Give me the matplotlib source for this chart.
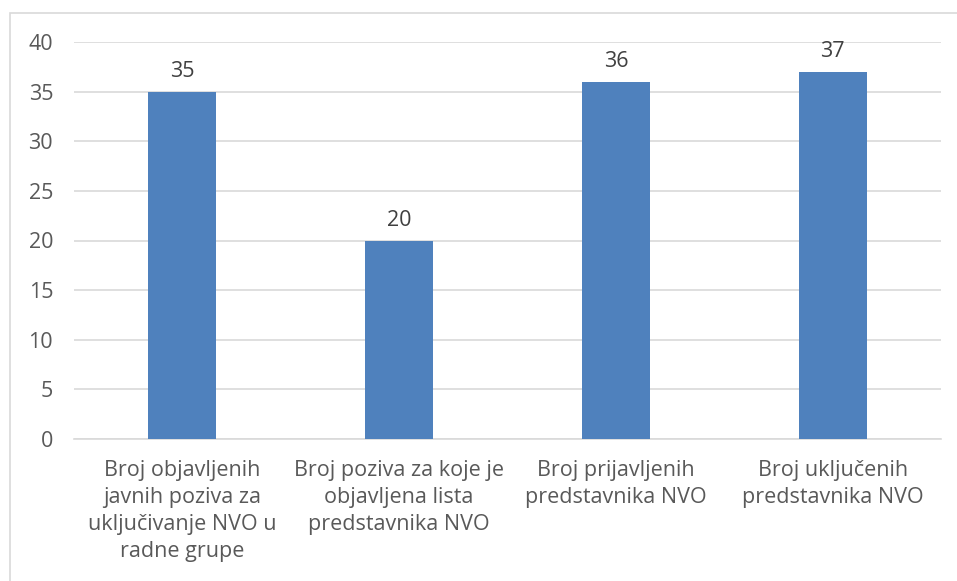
import matplotlib
matplotlib.use("Agg")
import matplotlib.pyplot as plt
from matplotlib.patches import Rectangle

categories = [
    "Broj objavljenih\njavnih poziva za\nuključivanje NVO u\nradne grupe",
    "Broj poziva za koje je\nobjavljena lista\npredstavnika NVO",
    "Broj prijavljenih\npredstavnika NVO",
    "Broj uključenih\npredstavnika NVO",
]
values = [35, 20, 36, 37]
yticks = [0, 5, 10, 15, 20, 25, 30, 35, 40]

W, H = 957, 581
fig = plt.figure(figsize=(W / 100, H / 100), dpi=100)
plt.rcParams['font.family'] = ['Open Sans', 'DejaVu Sans']
FS = 15.5

# chart-area border (left and top visible)
fig.patches.append(Rectangle((10 / W, -0.1), 1.2, 1 - 13 / H + 0.1,
                             transform=fig.transFigure, fill=False,
                             edgecolor='#d9d9d9', linewidth=1.2))

ax = fig.add_axes([74 / W, 1 - 439 / H, 867 / W, (439 - 42) / H])
x = range(len(categories))
bars = ax.bar(x, values, width=0.314, color='#4f81bd', zorder=3)
ax.set_xlim(-0.5, len(categories) - 0.5)
ax.set_ylim(0, 40)
ax.set_yticks(yticks)
ax.yaxis.grid(True, color='#d9d9d9', linewidth=1.2, zorder=0)
for s in ['top', 'right', 'left']:
    ax.spines[s].set_visible(False)
ax.spines['bottom'].set_color('#d9d9d9')
ax.spines['bottom'].set_linewidth(1.2)
ax.tick_params(axis='both', length=0, labelsize=FS, colors='#595959')
ax.tick_params(axis='y', pad=15)
ax.tick_params(axis='x', pad=15)
ax.set_xticks(list(x))
ax.set_xticklabels(categories, linespacing=1.37)
for b, v in zip(bars, values):
    ax.annotate(str(v), (b.get_x() + b.get_width() / 2, v), xytext=(0, 7),
                textcoords='offset points', ha='center', va='bottom',
                fontsize=FS, color='#404040')

fig.savefig("out.png", dpi=100)
